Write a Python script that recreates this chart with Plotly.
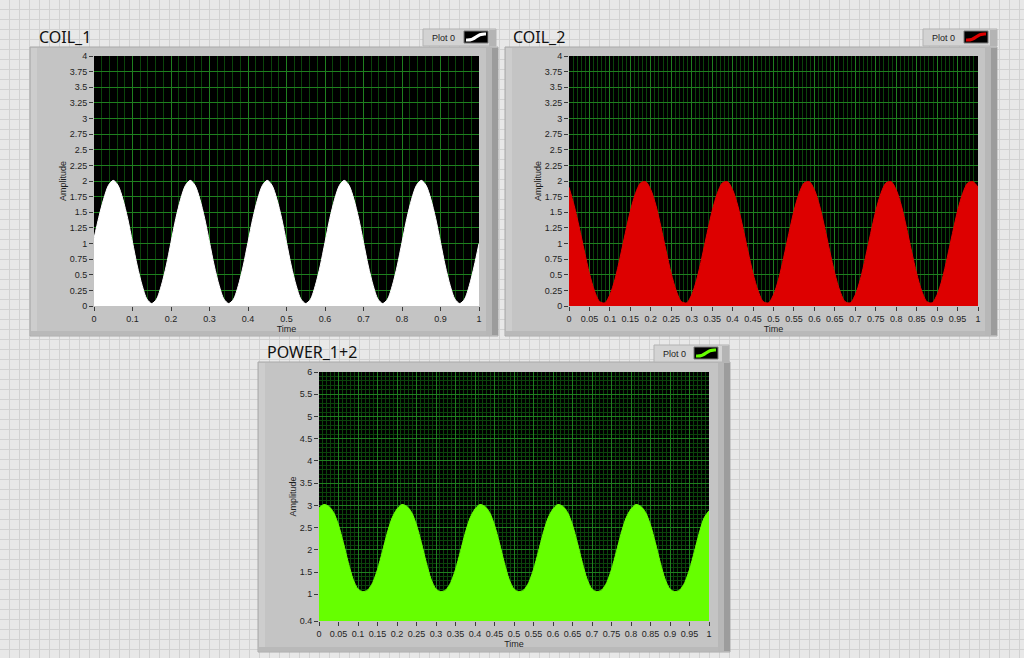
import plotly.graph_objects as go

W, H = 1024, 658

# ---------------- data ----------------
time = [0.0, 0.0125, 0.025, 0.0375, 0.05, 0.0625, 0.075, 0.0875,
        0.1, 0.1125, 0.125, 0.1375, 0.15, 0.1625, 0.175, 0.1875,
        0.2, 0.2125, 0.225, 0.2375, 0.25, 0.2625, 0.275, 0.2875,
        0.3, 0.3125, 0.325, 0.3375, 0.35, 0.3625, 0.375, 0.3875,
        0.4, 0.4125, 0.425, 0.4375, 0.45, 0.4625, 0.475, 0.4875,
        0.5, 0.5125, 0.525, 0.5375, 0.55, 0.5625, 0.575, 0.5875,
        0.6, 0.6125, 0.625, 0.6375, 0.65, 0.6625, 0.675, 0.6875,
        0.7, 0.7125, 0.725, 0.7375, 0.75, 0.7625, 0.775, 0.7875,
        0.8, 0.8125, 0.825, 0.8375, 0.85, 0.8625, 0.875, 0.8875,
        0.9, 0.9125, 0.925, 0.9375, 0.95, 0.9625, 0.975, 0.9875,
        1.0]

coil_1 = [1.08, 1.42, 1.71, 1.93, 2.01, 1.93, 1.71, 1.40,
          1.02, 0.64, 0.33, 0.11, 0.04, 0.11, 0.33, 0.64,
          1.02, 1.40, 1.71, 1.93, 2.01, 1.93, 1.71, 1.40,
          1.02, 0.64, 0.33, 0.11, 0.04, 0.11, 0.33, 0.64,
          1.02, 1.40, 1.71, 1.93, 2.01, 1.93, 1.71, 1.40,
          1.02, 0.64, 0.33, 0.11, 0.04, 0.11, 0.33, 0.64,
          1.02, 1.40, 1.71, 1.93, 2.01, 1.93, 1.71, 1.40,
          1.02, 0.64, 0.33, 0.11, 0.04, 0.11, 0.33, 0.64,
          1.02, 1.40, 1.71, 1.93, 2.01, 1.93, 1.71, 1.40,
          1.02, 0.64, 0.33, 0.11, 0.04, 0.11, 0.33, 0.64,
          1.00]

coil_2 = [1.90, 1.61, 1.26, 0.88, 0.52, 0.24, 0.07, 0.05,
          0.18, 0.43, 0.78, 1.16, 1.52, 1.80, 1.97, 1.99,
          1.86, 1.61, 1.26, 0.88, 0.52, 0.24, 0.07, 0.05,
          0.18, 0.43, 0.78, 1.16, 1.52, 1.80, 1.97, 1.99,
          1.86, 1.61, 1.26, 0.88, 0.52, 0.24, 0.07, 0.05,
          0.18, 0.43, 0.78, 1.16, 1.52, 1.80, 1.97, 1.99,
          1.86, 1.61, 1.26, 0.88, 0.52, 0.24, 0.07, 0.05,
          0.18, 0.43, 0.78, 1.16, 1.52, 1.80, 1.97, 1.99,
          1.86, 1.61, 1.26, 0.88, 0.52, 0.24, 0.07, 0.05,
          0.18, 0.43, 0.78, 1.16, 1.52, 1.80, 1.97, 1.99,
          1.90]

power_12 = [2.94, 3.02, 2.98, 2.84, 2.56, 2.16, 1.72, 1.34,
            1.12, 1.06, 1.10, 1.26, 1.56, 1.96, 2.38, 2.72,
            2.92, 3.02, 2.98, 2.84, 2.56, 2.16, 1.72, 1.34,
            1.12, 1.06, 1.10, 1.26, 1.56, 1.96, 2.38, 2.72,
            2.92, 3.02, 2.98, 2.84, 2.56, 2.16, 1.72, 1.34,
            1.12, 1.06, 1.10, 1.26, 1.56, 1.96, 2.38, 2.72,
            2.92, 3.02, 2.98, 2.84, 2.56, 2.16, 1.72, 1.34,
            1.12, 1.06, 1.10, 1.26, 1.56, 1.96, 2.38, 2.72,
            2.92, 3.02, 2.98, 2.84, 2.56, 2.16, 1.72, 1.34,
            1.12, 1.06, 1.10, 1.26, 1.56, 1.96, 2.38, 2.72,
            2.88]

titles = ["COIL_1", "COIL_2", "POWER_1+2"]
legend_label = "Plot 0"

x_ticks_01 = [0, 0.1, 0.2, 0.3, 0.4, 0.5, 0.6, 0.7, 0.8, 0.9, 1]
x_text_01 = ["0", "0.1", "0.2", "0.3", "0.4", "0.5", "0.6", "0.7", "0.8", "0.9", "1"]
x_ticks_005 = [0, 0.05, 0.1, 0.15, 0.2, 0.25, 0.3, 0.35, 0.4, 0.45, 0.5,
               0.55, 0.6, 0.65, 0.7, 0.75, 0.8, 0.85, 0.9, 0.95, 1]
x_text_005 = ["0", "0.05", "0.1", "0.15", "0.2", "0.25", "0.3", "0.35", "0.4", "0.45", "0.5",
              "0.55", "0.6", "0.65", "0.7", "0.75", "0.8", "0.85", "0.9", "0.95", "1"]
y_ticks_coil = [0, 0.25, 0.5, 0.75, 1, 1.25, 1.5, 1.75, 2, 2.25, 2.5, 2.75, 3, 3.25, 3.5, 3.75, 4]
y_text_coil = ["0", "0.25", "0.5", "0.75", "1", "1.25", "1.5", "1.75", "2", "2.25",
               "2.5", "2.75", "3", "3.25", "3.5", "3.75", "4"]
y_ticks_power = [0.4, 1, 1.5, 2, 2.5, 3, 3.5, 4, 4.5, 5, 5.5, 6]
y_text_power = ["0.4", "1", "1.5", "2", "2.5", "3", "3.5", "4", "4.5", "5", "5.5", "6"]

colors = ["#ffffff", "#dd0000", "#66ff00"]

# ---------------- helpers ----------------
def PX(x):
    return x / W

def PY(y):
    return 1 - y / H

TICKFONT = dict(family="Liberation Sans", size=9, color="#1e1e1e")
TITLEFONT = dict(family="Liberation Sans", size=9, color="#1e1e1e")
MAJOR_GRID = "#1f7f1f"
MINOR_GRID = "#0b440b"

fig = go.Figure()

# plot area pixel boxes (left, top, right, bottom)
boxes = [(94, 56, 479, 306), (569, 56, 978, 306), (319, 372, 709, 621)]
series = [coil_1, coil_2, power_12]

for i, (vals, col) in enumerate(zip(series, colors)):
    sfx = "" if i == 0 else str(i + 1)
    fig.add_trace(go.Scatter(
        x=time, y=vals, mode="lines", line=dict(color=col, width=1, shape="spline", smoothing=0.8),
        fill="tozeroy", fillcolor=col, hoverinfo="skip", showlegend=False,
        xaxis="x" + sfx, yaxis="y" + sfx))

def xaxis_cfg(box, vals, text, minor_dt, anchor):
    l, t, r, b = box
    return dict(domain=[PX(l), PX(r)], range=[0, 1], anchor=anchor,
                tickmode="array", tickvals=vals, ticktext=text,
                showgrid=True, gridcolor=MAJOR_GRID, gridwidth=1, zeroline=False,
                ticks="outside", ticklen=4, tickcolor="#3a3a3a", tickfont=TICKFONT,
                minor=dict(tickmode="linear", tick0=0, dtick=minor_dt, showgrid=True,
                           gridcolor=MINOR_GRID, ticks=""),
                title=dict(text="Time", font=TITLEFONT, standoff=2),
                showline=False, fixedrange=True, automargin=False)

def yaxis_cfg(box, rng, vals, text, minor_dt, anchor):
    l, t, r, b = box
    d = dict(domain=[PY(b), PY(t)], range=rng, anchor=anchor,
             tickmode="array", tickvals=vals, ticktext=text,
             showgrid=True, gridcolor=MAJOR_GRID, gridwidth=1, zeroline=False,
             ticks="outside", ticklen=4, tickcolor="#3a3a3a", tickfont=TICKFONT,
             title=dict(text="Amplitude", font=TITLEFONT, standoff=1),
             showline=False, fixedrange=True, automargin=False)
    if minor_dt:
        d["minor"] = dict(tickmode="linear", tick0=0, dtick=minor_dt, showgrid=True,
                          gridcolor=MINOR_GRID, ticks="")
    return d

layout_axes = dict(
    xaxis=xaxis_cfg(boxes[0], x_ticks_01, x_text_01, 0.02, "y"),
    yaxis=yaxis_cfg(boxes[0], [0, 4], y_ticks_coil, y_text_coil, None, "x"),
    xaxis2=xaxis_cfg(boxes[1], x_ticks_005, x_text_005, 0.01, "y2"),
    yaxis2=yaxis_cfg(boxes[1], [0, 4], y_ticks_coil, y_text_coil, None, "x2"),
    xaxis3=xaxis_cfg(boxes[2], x_ticks_005, x_text_005, 0.01, "y3"),
    yaxis3=yaxis_cfg(boxes[2], [0.4, 6], y_ticks_power, y_text_power, 0.1, "x3"),
)

shapes = []
# panel background grid (one path)
segs = []
gx = 9.5
while gx < W:
    segs.append(f"M{PX(gx):.5f},0 L{PX(gx):.5f},1")
    gx += 10
gy = 9.5
while gy < H:
    segs.append(f"M0,{PY(gy):.5f} L1,{PY(gy):.5f}")
    gy += 10
shapes.append(dict(type="path", xref="paper", yref="paper", path=" ".join(segs),
                   line=dict(color="#d2d2d2", width=1), layer="below"))

def rect(x0, y0, x1, y1, fill, line=None, lw=1):
    return dict(type="rect", xref="paper", yref="paper", x0=PX(x0), x1=PX(x1),
                y0=PY(y1), y1=PY(y0), fillcolor=fill,
                line=dict(color=line or fill, width=lw if line else 0), layer="below")

# chart frames (left, top, right, bottom)
frames = [(30, 47, 498, 336), (505, 47, 997, 336), (258, 362, 730, 652)]
for (l, t, r, b) in frames:
    shapes.append(rect(l, t, r, b, "#c4c4c4", "#a9a9a9"))
    shapes.append(rect(l + 1, t + 1, l + 7, b - 1, "#cdcdcd"))
    shapes.append(rect(r - 12, t + 1, r - 6, b - 1, "#b7b7b7"))
    shapes.append(rect(r - 6, t + 1, r, b - 1, "#9c9c9c"))
    shapes.append(rect(l + 1, b - 5, r - 12, b - 1, "#b9b9b9"))

# black plot areas
for (l, t, r, b) in boxes:
    shapes.append(rect(l, t, r, b, "#000000"))

# legend buttons (left, top, right, bottom, swatch_left, swatch_right)
buttons = [(423, 29, 496, 46, 464, 488), (923, 29, 997, 46, 964, 988), (654, 345, 729, 362, 694, 718)]
annotations = []
for (l, t, r, b, sl, sr), col in zip(buttons, colors):
    shapes.append(rect(l, t, r, b, "#d3d3d3", "#b3b3b3"))
    shapes.append(rect(r - 7, t + 1, r, b, "#b4b4b4"))
    shapes.append(rect(sl, t + 2, sr, b - 3, "#000000", "#7a7a7a"))
    x0, x1 = sl + 2, sr - 2
    y0, y1 = b - 6, t + 5
    path = (f"M{PX(x0):.5f},{PY(y0):.5f} C{PX(x0 + 12):.5f},{PY(y0 + 1):.5f} "
            f"{PX(x1 - 12):.5f},{PY(y1 - 1):.5f} {PX(x1):.5f},{PY(y1):.5f}")
    shapes.append(dict(type="path", xref="paper", yref="paper", path=path,
                       line=dict(color=col, width=3), layer="below"))
    annotations.append(dict(text=legend_label, xref="paper", yref="paper",
                            x=PX((l + sl) / 2), y=PY((t + b) / 2), xanchor="center",
                            yanchor="middle", showarrow=False,
                            font=dict(family="Liberation Sans", size=9, color="#222222")))

# chart titles
title_pos = [(37, 37), (511, 37), (265, 352)]
for txt, (tx, ty) in zip(titles, title_pos):
    annotations.append(dict(text=txt, xref="paper", yref="paper", x=PX(tx), y=PY(ty),
                            xanchor="left", yanchor="middle", showarrow=False,
                            font=dict(family="Noto Sans", size=16, color="#111111")))

fig.update_layout(
    width=W, height=H, margin=dict(l=0, r=0, t=0, b=0),
    paper_bgcolor="#e8e8e8", plot_bgcolor="#000000",
    showlegend=False, shapes=shapes, annotations=annotations,
    **layout_axes,
)

fig.write_html("out.html", config={"displayModeBar": False},
               post_script="document.body.style.margin='0';document.body.style.overflow='hidden';")
